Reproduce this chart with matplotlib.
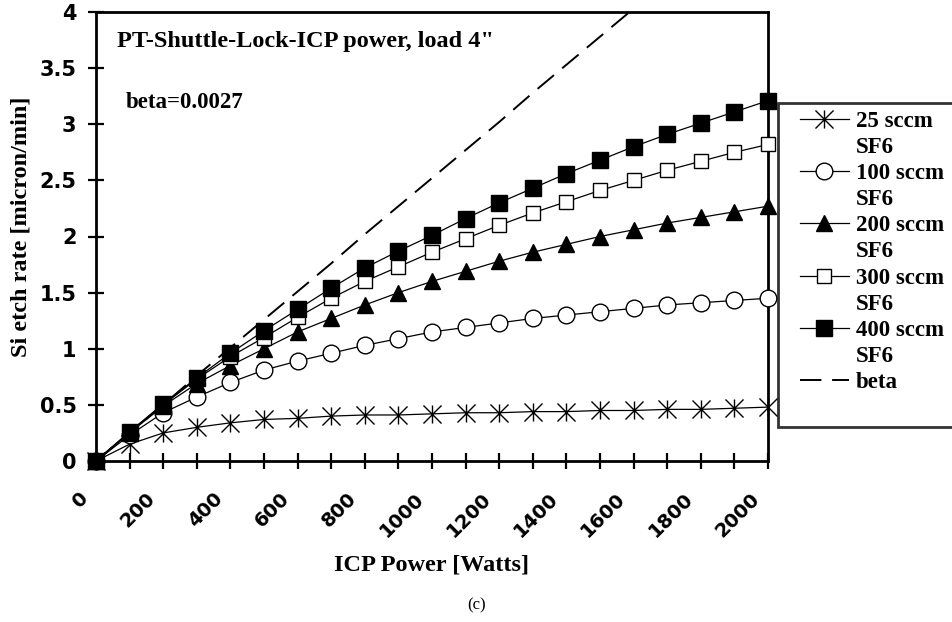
import matplotlib
matplotlib.use('Agg')
import matplotlib.pyplot as plt
from matplotlib.path import Path
from matplotlib.lines import Line2D
from matplotlib.legend_handler import HandlerLine2D
from matplotlib.transforms import ScaledTranslation

# ICP power [W] and Si etch rate [micron/min] per SF6 flow
power = [0, 100, 200, 300, 400, 500, 600, 700, 800, 900, 1000,
         1100, 1200, 1300, 1400, 1500, 1600, 1700, 1800, 1900, 2000]
sccm25 = [0, 0.15, 0.25, 0.30, 0.34, 0.37, 0.38, 0.40, 0.41, 0.41, 0.42,
          0.43, 0.43, 0.44, 0.44, 0.45, 0.45, 0.46, 0.46, 0.47, 0.48]
sccm100 = [0, 0.23, 0.43, 0.57, 0.70, 0.81, 0.89, 0.96, 1.03, 1.09, 1.15,
           1.19, 1.23, 1.27, 1.30, 1.33, 1.36, 1.39, 1.41, 1.43, 1.45]
sccm200 = [0, 0.25, 0.49, 0.69, 0.85, 1.00, 1.15, 1.27, 1.39, 1.50, 1.60,
           1.69, 1.78, 1.86, 1.93, 2.00, 2.06, 2.12, 2.17, 2.22, 2.27]
sccm300 = [0, 0.26, 0.50, 0.73, 0.93, 1.10, 1.28, 1.45, 1.60, 1.73, 1.86,
           1.98, 2.10, 2.21, 2.31, 2.41, 2.50, 2.59, 2.67, 2.75, 2.82]
sccm400 = [0, 0.26, 0.51, 0.74, 0.96, 1.16, 1.35, 1.54, 1.72, 1.87, 2.01,
           2.16, 2.30, 2.43, 2.56, 2.68, 2.80, 2.91, 3.01, 3.11, 3.21]
beta_power = [0, 100, 200, 300, 400, 500, 600, 700, 800, 900, 1000,
              1100, 1200, 1300, 1400, 1500, 1600, 1700]
beta_rate = [0, 0.25, 0.50, 0.76, 1.01, 1.26, 1.51, 1.76, 2.02, 2.27, 2.52,
             2.77, 3.02, 3.28, 3.53, 3.78, 4.03, 4.28]
series_labels = ['25 sccm', '100 sccm', '200 sccm', '300 sccm', '400 sccm']
xtick_labels = ['0', '200', '400', '600', '800', '1000', '1200', '1400',
                '1600', '1800', '2000']
ytick_labels = ['0', '0.5', '1', '1.5', '2', '2.5', '3', '3.5', '4']

SERIF = 'Liberation Serif'
SANS = 'DejaVu Sans'


class ShiftedLine(HandlerLine2D):
    # draws the legend line a bit to the right inside its handle box
    def __init__(self, shift, **kw):
        super().__init__(**kw)
        self.shift = shift

    def create_artists(self, legend, orig_handle, xdescent, ydescent,
                       width, height, fontsize, trans):
        s = self.shift * fontsize
        return super().create_artists(legend, orig_handle, xdescent - s, ydescent,
                                      width - s, height, fontsize, trans)


# asterisk marker: vertical stroke + X
star = Path([(0, -1), (0, 1), (-1, -1), (1, 1), (-1, 1), (1, -1)],
            [Path.MOVETO, Path.LINETO, Path.MOVETO, Path.LINETO,
             Path.MOVETO, Path.LINETO])

fig = plt.figure(figsize=(9.53, 6.22), dpi=100)
ax = fig.add_axes([96/953, 1-461/622, (768-96)/953, (461-12)/622])

styles = [
    dict(marker=star, mfc='none', mec='black', ms=13, mew=1.0),
    dict(marker='o', mfc='white', mec='black', ms=12, mew=1.0),
    dict(marker='^', mfc='black', mec='black', ms=11, mew=1.0),
    dict(marker='s', mfc='white', mec='black', ms=10.5, mew=1.0),
    dict(marker='s', mfc='black', mec='black', ms=11.5, mew=1.0),
]
handles = []
for ys, st in zip([sccm25, sccm100, sccm200, sccm300, sccm400], styles):
    h, = ax.plot(power, ys, color='black', lw=0.9, clip_on=False, zorder=3, **st)
    handles.append(h)
hb, = ax.plot(beta_power, beta_rate, color='black', lw=1.4,
              linestyle=(0, (11, 5.5)), zorder=2)

ax.set_xlim(0, 2000)
ax.set_ylim(0, 4)
ax.set_xticks(power)
ax.set_xticklabels([xtick_labels[i // 2] if i % 2 == 0 else '' for i in range(len(power))])
ax.set_yticks([0, 0.5, 1, 1.5, 2, 2.5, 3, 3.5, 4])
ax.set_yticklabels(ytick_labels)
for sp in ax.spines.values():
    sp.set_linewidth(2)
ax.tick_params(axis='both', direction='inout', length=12, width=1.6,
               labelsize=14)
ax.tick_params(axis='y', pad=8, labelsize=15)
ax.tick_params(axis='x', pad=19)
for lab in ax.get_yticklabels():
    lab.set_fontfamily(SANS)
    lab.set_fontweight('bold')
for lab in ax.get_xticklabels():
    lab.set_fontfamily(SANS)
    lab.set_fontweight('bold')
    lab.set_rotation(45)
    lab.set_ha('right')
    lab.set_va('center')
    lab.set_rotation_mode('anchor')
    lab.set_transform(lab.get_transform() + ScaledTranslation(-0.11, 0, fig.dpi_scale_trans))

ax.set_ylabel('Si etch rate [micron/min]', fontfamily=SERIF, fontweight='bold',
              fontsize=17.5)
ax.yaxis.set_label_coords(32/953, 1-227/622, transform=fig.transFigure)
fig.text(432/953, 1-565/622, 'ICP Power [Watts]', fontfamily=SERIF,
         fontweight='bold', fontsize=17.5, ha='center', va='center')
fig.text(477/953, 1-605/622, '(c)', fontfamily=SERIF, fontsize=12,
         ha='center', va='center')
ax.text(117/953, 1-42/622, 'PT-Shuttle-Lock-ICP power, load 4"', transform=fig.transFigure,
        fontfamily=SERIF, fontweight='bold', fontsize=17.5, va='center')
ax.text(126/953, 1-102/622, 'beta=0.0027', transform=fig.transFigure,
        fontfamily=SERIF, fontweight='bold', fontsize=16.5, va='center')

blank = Line2D([], [], linestyle='none', marker='none')
leg_handles = []
leg_labels = []
for h, lab in zip(handles, series_labels):
    leg_handles += [h, blank]
    leg_labels += [lab, 'SF6']
leg_handles += [hb, blank]
leg_labels += ['beta', '']
shifted = ShiftedLine(0.6)
leg = fig.legend(leg_handles, leg_labels, loc='upper left', mode='expand',
                 bbox_to_anchor=(778/953, 1-103/622 - 0.01, 200/953, 0.01),
                 borderaxespad=0,
                 frameon=True, fancybox=False, edgecolor='black',
                 prop=dict(family=SERIF, weight='bold', size=16.5),
                 labelspacing=0.22, handlelength=2.75, handletextpad=0.3,
                 borderpad=0.35, handler_map={h: shifted for h in handles + [hb]})
leg.get_frame().set_linewidth(2)

fig.savefig('out.png', dpi=100)
